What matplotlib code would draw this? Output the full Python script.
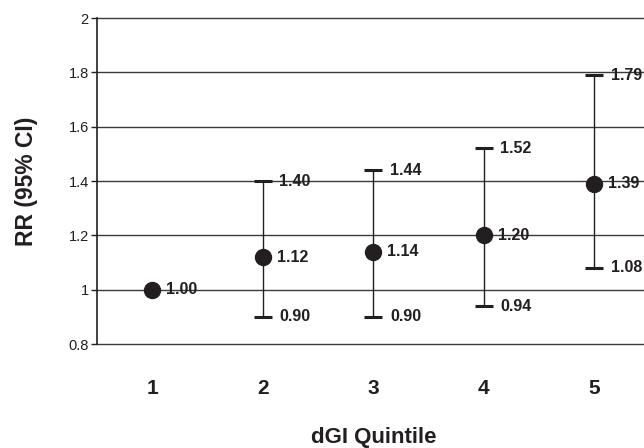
import matplotlib
matplotlib.use('Agg')
import matplotlib.pyplot as plt
import numpy as np

plt.rcParams['font.family'] = ['Liberation Sans', 'DejaVu Sans']

# relative risk by dGI quintile with 95% CI
quintiles = [1, 2, 3, 4, 5]
rr = [1.00, 1.12, 1.14, 1.20, 1.39]
ci_low = [1.00, 0.90, 0.90, 0.94, 1.08]
ci_high = [1.00, 1.40, 1.44, 1.52, 1.79]
tick_labels = ['1', '2', '3', '4', '5']

ink = '#231f20'

fig = plt.figure(figsize=(6.44, 4.48), dpi=100)
ax = fig.add_axes([0.1506, 0.232, 0.858, 0.7277])

rr_a = np.array(rr)
lo = rr_a - np.array(ci_low)
hi = np.array(ci_high) - rr_a
has_ci = np.array(ci_high) > np.array(ci_low)
x = np.array(quintiles)

ax.errorbar(x[has_ci], rr_a[has_ci], yerr=[lo[has_ci], hi[has_ci]], fmt='none',
            ecolor=ink, elinewidth=1.0, capsize=6.5, capthick=2.2, zorder=3)
ax.plot(x, rr_a, 'o', color=ink, markersize=11.5, zorder=4)

# value labels
for xi, v in zip(x, rr):
    ax.annotate('%.2f' % v, (xi, v), xytext=(10, 0), textcoords='offset points',
                va='center', ha='left', fontsize=11.5, fontweight='bold', color=ink)
for xi, l, h, c in zip(x, ci_low, ci_high, has_ci):
    if not c:
        continue
    for v in (l, h):
        ax.annotate('%.2f' % v, (xi, v), xytext=(12, 0), textcoords='offset points',
                    va='center', ha='left', fontsize=11.5, fontweight='bold', color=ink)

ax.set_xlim(0.5, 5.5)
ax.set_ylim(0.8, 2.0)
ax.set_yticks(np.arange(0.8, 2.01, 0.2))
ax.set_yticklabels(['0.8', '1', '1.2', '1.4', '1.6', '1.8', '2'])
ax.set_xticks(quintiles)
ax.set_xticklabels(tick_labels, fontsize=15, fontweight='bold', color=ink)
ax.tick_params(axis='x', length=0, pad=25)
ax.tick_params(axis='y', length=4, width=1, labelsize=10.5, colors=ink, pad=2)

ax.yaxis.grid(True, color='#3a3a3a', linewidth=1.0)
for gl in ax.get_ygridlines():
    gl.set_clip_on(False)
ax.set_axisbelow(True)
for s in ['top', 'right', 'bottom']:
    ax.spines[s].set_visible(False)
ax.spines['left'].set_color(ink)
ax.spines['left'].set_linewidth(1.2)

ax.set_xlabel('dGI Quintile', fontsize=16, fontweight='bold', color=ink, labelpad=21)
ax.set_ylabel('RR (95% CI)', fontsize=16.5, fontweight='bold', color=ink, labelpad=22)

fig.savefig('out.png', dpi=100)
